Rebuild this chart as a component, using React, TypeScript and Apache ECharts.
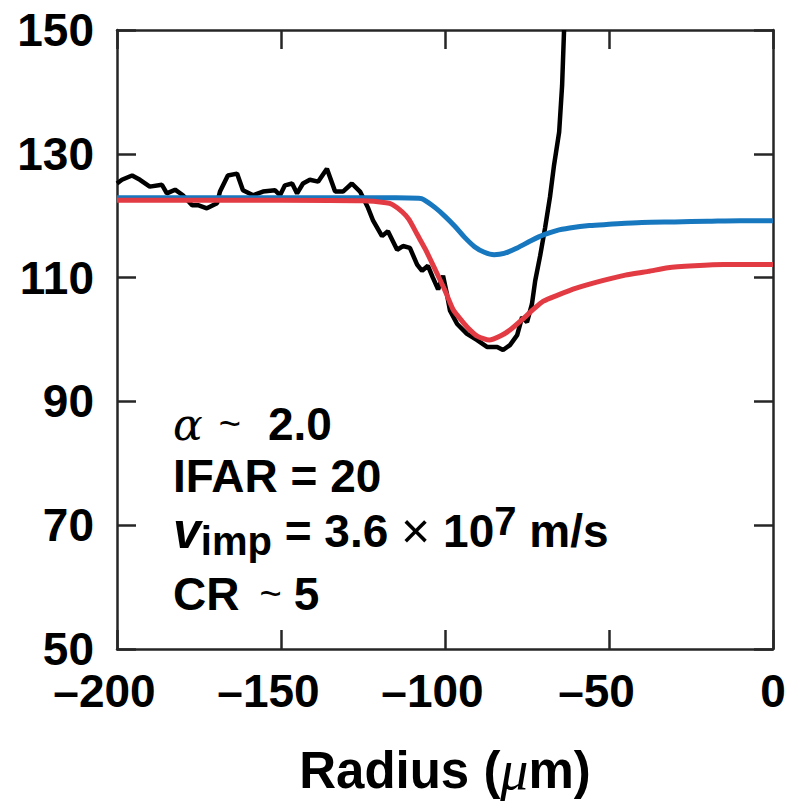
import React, { useEffect, useRef } from "react";
import * as echarts from "echarts";

// Axis ranges / ticks
const xMin = -200;
const xMax = 0;
const xStep = 50;
const yMin = 50;
const yMax = 150;
const yStep = 20;

// Measured profile (black)
const measuredR = [
  -200, -198.5, -195.4, -193, -190, -186.3, -184.8, -182.3, -179.9, -177.1, -175.3, -172.6,
  -169.5, -168.6, -166.2, -163.4, -161.6, -158.5, -155.5, -151.8, -150.3, -148.8, -146.6,
  -145.1, -143.3, -141.2, -138.7, -136.0, -133.5, -131.1, -128.4, -125.9, -124.4, -123.5,
  -122, -119.2, -117.4, -114.6, -112.8, -110.7, -108.5, -107.0, -105.2, -103.7, -102.1,
  -100.6, -99.4, -98.5, -96.3, -93.3, -90.2, -87.2, -84.1, -82.3, -80.2, -78.0, -76.5,
  -75.0, -73.5, -72.5, -71, -69.5, -68, -66.8, -65.2, -64.3, -63.7,
];
const measuredV = [
  125.2, 125.8, 126.5, 125.8, 124.7, 125.0, 123.6, 124.2, 123.3, 121.7, 121.7, 121.2,
  122.0, 123.9, 126.5, 126.8, 124.1, 123.3, 123.9, 124.1, 123.3, 124.9, 125.2,
  123.6, 125.2, 125.8, 125.5, 127.6, 123.9, 123.9, 125.2, 123.9, 122.3, 121.3,
  119.3, 116.7, 117.5, 114.5, 115.1, 114.8, 112.1, 111.1, 111.9, 110.0, 108.1,
  110.3, 107.3, 104.7, 102.5, 100.9, 99.9, 98.8, 98.8, 98.3, 99.1, 100.7, 103.6,
  102.8, 105.7, 109.5, 113.5, 118.0, 123.0, 128.0, 133.5, 141.0, 150.0,
];

// Simulation (blue)
const blueR = [
  -200, -150, -115, -108, -106.5, -103, -100, -97, -94, -91, -88, -85, -82, -78, -74, -70,
  -66, -62, -56, -50, -40, -30, -20, -10, 0,
];
const blueV = [
  122.9, 122.9, 122.9, 122.8, 122.6, 121.3, 119.9, 118.3, 116.5, 115.0, 114.1, 113.7, 113.9,
  114.8, 115.9, 116.9, 117.6, 118.0, 118.4, 118.6, 118.9, 119.0, 119.1, 119.2, 119.2,
];

// Simulation (red)
const redR = [
  -200, -150, -125, -118, -116, -113, -111, -108.5, -106, -103, -100, -97.5, -95, -92.5, -90,
  -86.5, -83, -80, -76.5, -73, -70, -66, -60, -52, -45, -38, -32, -24, -15, 0,
];
const redV = [
  122.5, 122.5, 122.4, 122.1, 121.8, 120.6, 119.4, 117.0, 114.6, 111.3, 107.9, 104.8, 103.1,
  101.6, 100.5, 99.9, 100.6, 101.6, 103.2, 104.9, 106.2, 107.1, 108.3, 109.5, 110.4, 111.0,
  111.6, 111.9, 112.1, 112.1,
];

const FONT = "'Liberation Sans', Arial, Helvetica, sans-serif";
const SERIF = "'Liberation Serif', 'DejaVu Serif', serif";
const GREEK = "'DejaVu Serif', 'Liberation Serif', serif";
const FRAME = "#262626";

const zip = (a: number[], b: number[]) => a.map((v, i) => [v, b[i]]);

export default function App() {
  const ref = useRef<HTMLDivElement>(null);
  useEffect(() => {
    if (!ref.current) return;
    const chart = echarts.init(ref.current, undefined, { renderer: "svg" });
    const tickStyle = { show: true, inside: true, length: 19, lineStyle: { color: FRAME, width: 2.5 } };
    const lineStyle = { show: true, lineStyle: { color: FRAME, width: 2.5 } };
    const base = { fontSize: 46, fontWeight: "bold" as const, fontFamily: FONT, color: "#000" };
    const tildeBase = { fontSize: 38, fontFamily: FONT, fontWeight: "normal" as const, color: "#000" };
    chart.setOption({
      animation: false,
      grid: { left: 117, right: 17, top: 30, bottom: 148, containLabel: false },
      xAxis: [
        {
          type: "value",
          min: xMin,
          max: xMax,
          interval: xStep,
          position: "bottom",
          axisLine: { ...lineStyle, onZero: false },
          axisTick: tickStyle,
          splitLine: { show: false },
          axisLabel: {
            margin: 24,
            formatter: (v: number) => (v < 0 ? `{n|–${Math.abs(v)}}` : `{z|${v}}`),
            rich: {
              n: { ...base, lineHeight: 36, padding: [0, 25, 0, 0] },
              z: { ...base, lineHeight: 36 },
            },
          },
          name: "Radius ({mu|μ}m)",
          nameLocation: "middle",
          nameGap: 93,
          nameTextStyle: {
            fontSize: 51,
            fontWeight: "bold",
            fontFamily: FONT,
            color: "#000",
            rich: {
              mu: { fontSize: 56, fontFamily: SERIF, fontStyle: "italic", fontWeight: "normal", color: "#000" },
            },
          },
        },
        {
          type: "value",
          min: xMin,
          max: xMax,
          interval: xStep,
          position: "top",
          axisLine: { ...lineStyle, onZero: false },
          axisTick: tickStyle,
          axisLabel: { show: false },
          splitLine: { show: false },
        },
      ],
      yAxis: [
        {
          type: "value",
          min: yMin,
          max: yMax,
          interval: yStep,
          position: "left",
          axisLine: { ...lineStyle, onZero: false },
          axisTick: tickStyle,
          splitLine: { show: false },
          axisLabel: { ...base, lineHeight: 36, margin: 23 },
        },
        {
          type: "value",
          min: yMin,
          max: yMax,
          interval: yStep,
          position: "right",
          axisLine: { ...lineStyle, onZero: false },
          axisTick: tickStyle,
          splitLine: { show: false },
          axisLabel: { show: false },
        },
      ],
      series: [
        {
          name: "Measured",
          type: "line",
          data: zip(measuredR, measuredV),
          showSymbol: false,
          lineStyle: { color: "#000", width: 4.5 },
          clip: true,
          z: 2,
        },
        {
          name: "Blue",
          type: "line",
          data: zip(blueR, blueV),
          showSymbol: false,
          smooth: 0.3,
          lineStyle: { color: "#1777bf", width: 5 },
          z: 3,
        },
        {
          name: "Red",
          type: "line",
          data: zip(redR, redV),
          showSymbol: false,
          smooth: 0.2,
          lineStyle: { color: "#e23b43", width: 5 },
          z: 4,
        },
      ],
      graphic: [
        {
          type: "text",
          x: 173,
          y: 424,
          style: {
            text: "{a|α}{t|~}{b|2.0}",
            verticalAlign: "middle",
            align: "left",
            rich: {
              a: { fontSize: 44, fontFamily: GREEK, fontStyle: "italic", color: "#000", lineHeight: 46 },
              t: { ...tildeBase, padding: [0, 27, 0, 16], lineHeight: 46 },
              b: { ...base, lineHeight: 46 },
            },
          },
        },
        {
          type: "text",
          x: 173,
          y: 476,
          style: {
            text: "IFAR = 20",
            verticalAlign: "middle",
            align: "left",
            font: `bold 46px ${FONT}`,
            fill: "#000",
          },
        },
        {
          type: "text",
          x: 173,
          y: 531,
          style: {
            text: "{v|v}{s|imp}{b| = 3.6 }{x|×}{b| 10}{p|7}{b| m/s}",
            verticalAlign: "middle",
            align: "left",
            rich: {
              v: { ...base, fontSize: 50, fontStyle: "italic", lineHeight: 60 },
              s: { ...base, fontSize: 40, lineHeight: 34, verticalAlign: "bottom" },
              b: { ...base, lineHeight: 60 },
              x: { ...base, fontSize: 50, fontWeight: "normal", lineHeight: 60 },
              p: { ...base, fontSize: 40, lineHeight: 46, verticalAlign: "top" },
            },
          },
        },
        {
          type: "text",
          x: 173,
          y: 594,
          style: {
            text: "{b|CR}{t|~}{b|5}",
            verticalAlign: "middle",
            align: "left",
            rich: {
              t: { ...tildeBase, padding: [0, 12, 0, 20] },
              b: { ...base },
            },
          },
        },
      ],
    });
    return () => chart.dispose();
  }, []);
  return (
    <div
      ref={ref}
      style={{ position: "fixed", left: 0, top: 0, width: 790, height: 803, background: "#fff" }}
    />
  );
}
